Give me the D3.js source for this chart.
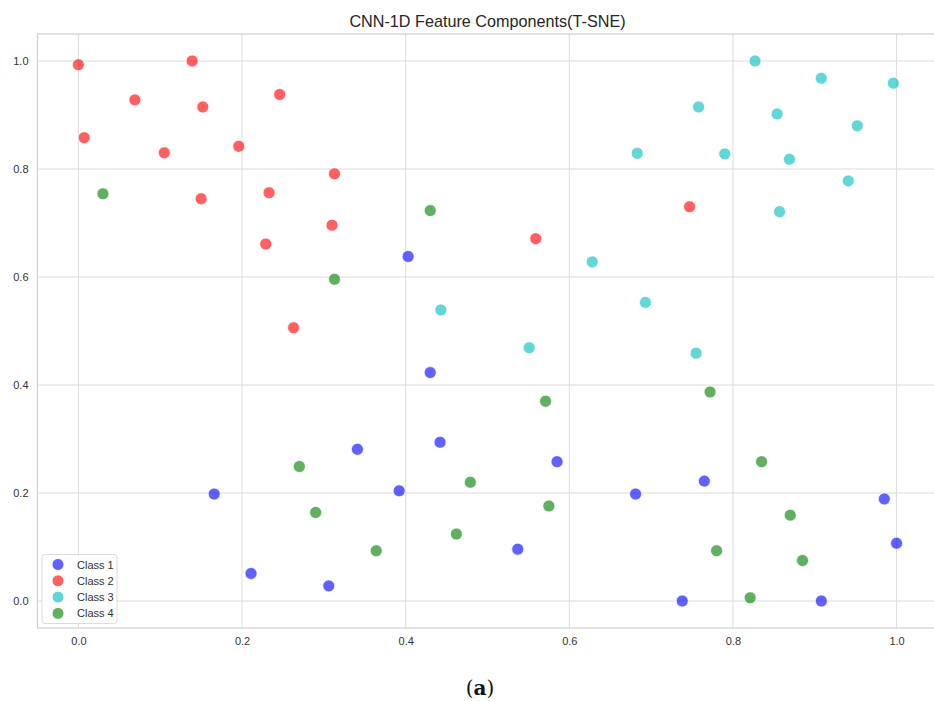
<!DOCTYPE html>
<meta charset="utf-8">
<html>
<head>
  <title>CNN-1D Feature Components</title>
</head>
<style>
body {
  margin: 0;
  background: #fff;
}
.grid line {
  stroke: #dcdcdc;
  stroke-width: 1;
}
.tick-label {
  font-size: 11px;
  font-family: "Liberation Sans", Arial, sans-serif;
  fill: #333;
}
.title {
  font-size: 16.2px;
  font-family: "Liberation Sans", Arial, sans-serif;
  fill: #262626;
}
.legend-text {
  font-size: 11px;
  font-family: "Liberation Sans", Arial, sans-serif;
  fill: #333;
}
</style>
<body>
<svg id="chart" width="934" height="701"></svg>

<script src="https://d3js.org/d3.v7.min.js"></script>
<script>

// data: [x, y]
var class1 = [[0.403, 0.638], [0.430, 0.423], [0.341, 0.281], [0.442, 0.294],
  [0.585, 0.258], [0.392, 0.204], [0.166, 0.198], [0.681, 0.198], [0.765, 0.222],
  [0.985, 0.189], [1.000, 0.107], [0.537, 0.096], [0.211, 0.051], [0.306, 0.028],
  [0.738, 0.000], [0.908, 0.000]];
var class2 = [[0.000, 0.993], [0.139, 1.000], [0.069, 0.928], [0.152, 0.915],
  [0.246, 0.938], [0.007, 0.858], [0.105, 0.830], [0.196, 0.842], [0.150, 0.745],
  [0.233, 0.756], [0.313, 0.791], [0.229, 0.661], [0.310, 0.696], [0.263, 0.506],
  [0.559, 0.671], [0.747, 0.730]];
var class3 = [[0.827, 1.000], [0.908, 0.968], [0.996, 0.959], [0.758, 0.915],
  [0.854, 0.902], [0.952, 0.880], [0.683, 0.829], [0.790, 0.828], [0.869, 0.818],
  [0.941, 0.778], [0.857, 0.721], [0.628, 0.628], [0.693, 0.553], [0.443, 0.539],
  [0.551, 0.469], [0.755, 0.459]];
var class4 = [[0.030, 0.754], [0.430, 0.723], [0.313, 0.596], [0.571, 0.370],
  [0.772, 0.387], [0.270, 0.249], [0.479, 0.220], [0.835, 0.258], [0.290, 0.164],
  [0.575, 0.176], [0.870, 0.159], [0.364, 0.093], [0.462, 0.124], [0.780, 0.093],
  [0.885, 0.075], [0.821, 0.006]];

var classNames = ["Class 1", "Class 2", "Class 3", "Class 4"];
var classColors = ["#0000ff", "#ff0000", "#00bfbf", "#008000"];
var tickValues = [0.0, 0.2, 0.4, 0.6, 0.8, 1.0];

var series = [class1, class2, class3, class4];

// plot frame
var margin = {top: 34, left: 37.5},
    width = 900,
    height = 594;

var svg = d3.select("#chart");

var x = d3.scaleLinear()
  .domain([-0.05, 1.05])
  .range([margin.left, margin.left + width]);

var y = d3.scaleLinear()
  .domain([-0.05, 1.05])
  .range([margin.top + height, margin.top]);

var clip = svg.append("clipPath").attr("id", "plotclip")
  .append("rect")
    .attr("x", margin.left)
    .attr("y", margin.top)
    .attr("width", width)
    .attr("height", height);

// grid lines
var grid = svg.append("g").attr("class", "grid").attr("clip-path", "url(#plotclip)");
grid.selectAll(".vx")
  .data(tickValues)
  .enter()
  .append("line")
    .attr("x1", function(d) { return x(d); })
    .attr("x2", function(d) { return x(d); })
    .attr("y1", margin.top)
    .attr("y2", margin.top + height);
grid.selectAll(".hy")
  .data(tickValues)
  .enter()
  .append("line")
    .attr("y1", function(d) { return y(d); })
    .attr("y2", function(d) { return y(d); })
    .attr("x1", margin.left)
    .attr("x2", margin.left + width);

// frame
svg.append("rect")
  .attr("x", margin.left)
  .attr("y", margin.top)
  .attr("width", width)
  .attr("height", height)
  .style("fill", "none")
  .style("stroke", "#d0d0d0")
  .style("stroke-width", 1.2);

// axes (labels only, seaborn whitegrid style)
var xAxis = svg.append("g")
  .attr("transform", "translate(0," + (margin.top + height) + ")")
  .call(d3.axisBottom(x).tickValues(tickValues).tickFormat(d3.format(".1f")).tickSize(0).tickPadding(9));
var yAxis = svg.append("g")
  .attr("transform", "translate(" + margin.left + ",0)")
  .call(d3.axisLeft(y).tickValues(tickValues).tickFormat(d3.format(".1f")).tickSize(0).tickPadding(9));
[xAxis, yAxis].forEach(function(a) {
  a.select(".domain").remove();
  a.selectAll("text").attr("class", "tick-label").attr("font-size", null).attr("font-family", null);
});

// points
var dots = svg.append("g").attr("clip-path", "url(#plotclip)");
series.forEach(function(data, i) {
  dots.selectAll(".dot" + i)
    .data(data)
    .enter()
    .append("circle")
      .attr("cx", function(d) { return x(d[0]); })
      .attr("cy", function(d) { return y(d[1]); })
      .attr("r", 6)
      .style("fill", classColors[i])
      .style("fill-opacity", 0.62)
      .style("stroke", "#ffffff")
      .style("stroke-opacity", 0.7)
      .style("stroke-width", 1);
});

// title
svg.append("text")
  .attr("class", "title")
  .attr("x", margin.left + width / 2)
  .attr("y", 27)
  .style("text-anchor", "middle")
  .text("CNN-1D Feature Components(T-SNE)");

// legend
var legend = svg.append("g").attr("transform", "translate(42,554.5)");
legend.append("rect")
  .attr("width", 75)
  .attr("height", 69)
  .attr("rx", 3)
  .style("fill", "#ffffff")
  .style("fill-opacity", 0.8)
  .style("stroke", "#dcdcdc");
classNames.forEach(function(name, i) {
  var row = legend.append("g").attr("transform", "translate(0," + (10 + i * 16.3) + ")");
  row.append("circle")
    .attr("cx", 16)
    .attr("cy", 0)
    .attr("r", 6)
    .style("fill", classColors[i])
    .style("fill-opacity", 0.62)
    .style("stroke", "#ffffff")
    .style("stroke-width", 1);
  row.append("text")
    .attr("class", "legend-text")
    .attr("x", 35)
    .attr("y", 4)
    .text(name);
});

// caption
var cap = svg.append("text")
  .attr("x", 480)
  .attr("y", 695)
  .style("text-anchor", "middle")
  .style("font-family", "'DejaVu Serif', 'Liberation Serif', serif")
  .style("font-size", "20px")
  .style("fill", "#111");
cap.append("tspan").text("(");
cap.append("tspan").style("font-weight", "bold").text("a");
cap.append("tspan").text(")");

</script>
</body>
</html>
